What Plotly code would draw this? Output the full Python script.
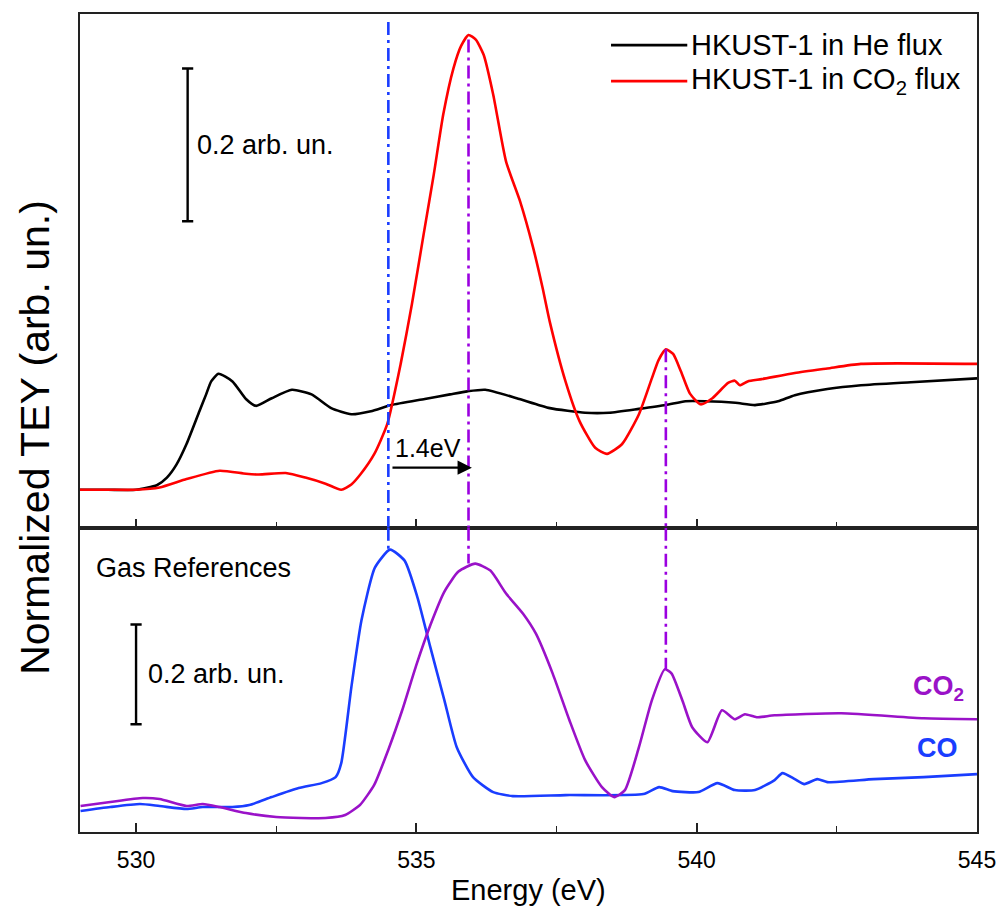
import plotly.graph_objects as go

# ---------------- data ----------------
# Top panel: HKUST-1 in He flux (black)
energy_he = [529.0, 529.5, 530.0, 530.37, 530.55, 530.72, 530.9, 531.13, 531.25, 531.34, 531.47,
             531.72, 531.96, 532.14, 532.42, 532.78, 533.13, 533.48, 533.84, 534.19, 534.55, 535.15,
             535.6, 535.91, 536.23, 536.79, 537.38, 538.01, 538.44, 538.97, 539.45, 539.8, 540.15,
             540.69, 541.04, 541.45, 541.75, 542.33, 542.93, 543.82, 545.0]
tey_he = [0.0, 0.0, 0.0, 0.006, 0.016, 0.033, 0.060, 0.103, 0.125, 0.142, 0.152,
          0.142, 0.119, 0.110, 0.120, 0.131, 0.125, 0.107, 0.099, 0.103, 0.111, 0.119,
          0.125, 0.129, 0.131, 0.120, 0.107, 0.101, 0.101, 0.106, 0.111, 0.116, 0.116,
          0.114, 0.111, 0.116, 0.124, 0.132, 0.137, 0.141, 0.146]

# Top panel: HKUST-1 in CO2 flux (red)
energy_co2flux = [529.0, 529.5, 530.0, 530.42, 530.9, 531.49, 531.96, 532.19, 532.67, 533.02,
                  533.38, 533.66, 533.84, 534.0, 534.25, 534.48, 534.72, 534.92, 535.13, 535.31,
                  535.48, 535.66, 535.8, 535.93, 536.06, 536.2, 536.37, 536.6, 536.85, 537.08,
                  537.25, 537.38, 537.66, 537.91, 538.19, 538.4, 538.67, 538.97, 539.2, 539.32,
                  539.45, 539.58, 539.72, 539.88, 540.07, 540.28, 540.56, 540.68, 540.77, 540.91,
                  541.16, 541.75, 542.33, 542.93, 545.0]
tey_co2flux = [0.0, 0.0, 0.0, 0.003, 0.014, 0.025, 0.021, 0.020, 0.022, 0.016,
               0.008, 0.0, 0.007, 0.020, 0.047, 0.086, 0.165, 0.243, 0.335, 0.413,
               0.492, 0.552, 0.582, 0.596, 0.590, 0.570, 0.518, 0.430, 0.378, 0.318,
               0.265, 0.220, 0.142, 0.090, 0.055, 0.047, 0.060, 0.099, 0.146, 0.170,
               0.184, 0.178, 0.155, 0.126, 0.112, 0.120, 0.140, 0.143, 0.137, 0.142,
               0.145, 0.153, 0.159, 0.165, 0.165]

# Bottom panel: CO gas reference (blue)
energy_co = [529.01, 529.54, 530.07, 530.42, 530.9, 531.19, 531.72, 532.02, 532.42, 532.9,
             533.31, 533.56, 533.66, 533.84, 534.02, 534.26, 534.53, 534.79, 535.02, 535.25,
             535.5, 535.72, 536.01, 536.37, 536.72, 537.66, 539.05, 539.33, 539.57, 540.03,
             540.37, 540.68, 541.04, 541.39, 541.53, 541.75, 541.92, 542.15, 542.33, 543.16,
             544.05, 545.0]
tey_co = [0.042, 0.050, 0.056, 0.052, 0.046, 0.050, 0.050, 0.054, 0.070, 0.088,
          0.098, 0.110, 0.138, 0.290, 0.424, 0.530, 0.566, 0.544, 0.470, 0.370,
          0.264, 0.170, 0.110, 0.080, 0.072, 0.074, 0.076, 0.090, 0.082, 0.080,
          0.098, 0.084, 0.084, 0.104, 0.118, 0.106, 0.096, 0.106, 0.100, 0.106,
          0.110, 0.116]

# Bottom panel: CO2 gas reference (purple)
energy_co2gas = [529.01, 529.54, 530.12, 530.42, 530.9, 531.19, 531.49, 531.96, 532.5, 533.38,
                 533.73, 534.0, 534.25, 534.5, 534.75, 535.0, 535.25, 535.5, 535.75, 536.05,
                 536.32, 536.6, 536.9, 537.13, 537.43, 537.73, 538.01, 538.31, 538.53, 538.72,
                 538.97, 539.2, 539.43, 539.55, 539.75, 539.92, 540.19, 540.45, 540.68, 540.86,
                 541.07, 541.39, 542.58, 544.05, 545.0]
tey_co2gas = [0.052, 0.060, 0.068, 0.066, 0.052, 0.056, 0.050, 0.038, 0.030, 0.028,
              0.034, 0.055, 0.095, 0.165, 0.245, 0.335, 0.415, 0.482, 0.522, 0.538,
              0.524, 0.478, 0.438, 0.398, 0.318, 0.224, 0.144, 0.090, 0.070, 0.084,
              0.170, 0.264, 0.326, 0.318, 0.262, 0.210, 0.180, 0.244, 0.226, 0.236,
              0.230, 0.234, 0.238, 0.228, 0.226]

x_ticks = [530, 535, 540, 545]
x_range = [529.0, 545.0]
top_range = [-0.0497, 0.6235]
bottom_range = [0.0, 0.61]

# Peak markers (energies in eV) and their extents
co_peak_e = 534.5
co2_peak1_e = 535.93
co2_peak2_e = 539.45
shift_label = "1.4eV"

# Scale bars: 0.2 arb. un.
scale_top = dict(x=530.92, y0=0.352, y1=0.552)
scale_bottom = dict(x=530.0, y0=0.216, y1=0.416)

BLACK = "#000000"
RED = "#ff0000"
BLUE = "#1a3dff"
PURPLE = "#9a12c8"
PURPLE_LINE = "#9b00e0"
FONT = "Liberation Sans, Arial, sans-serif"

fig = go.Figure()

line_w = 2.6
SM = 0.55
fig.add_trace(go.Scatter(x=energy_he, y=tey_he, mode="lines", name="HKUST-1 in He flux",
                         line=dict(color=BLACK, width=line_w, shape="spline", smoothing=SM),
                         xaxis="x", yaxis="y", showlegend=False))
fig.add_trace(go.Scatter(x=energy_co2flux, y=tey_co2flux, mode="lines",
                         name="HKUST-1 in CO<sub>2</sub> flux",
                         line=dict(color=RED, width=line_w, shape="spline", smoothing=SM),
                         xaxis="x", yaxis="y", showlegend=False))
fig.add_trace(go.Scatter(x=energy_co, y=tey_co, mode="lines", name="CO",
                         line=dict(color=BLUE, width=line_w, shape="spline", smoothing=SM),
                         xaxis="x2", yaxis="y2", showlegend=False))
fig.add_trace(go.Scatter(x=energy_co2gas, y=tey_co2gas, mode="lines", name="CO<sub>2</sub>",
                         line=dict(color=PURPLE, width=line_w, shape="spline", smoothing=SM),
                         xaxis="x2", yaxis="y2", showlegend=False))

# scale bars
for sb, xa, ya in [(scale_top, "x", "y"), (scale_bottom, "x2", "y2")]:
    fig.add_trace(go.Scatter(x=[sb["x"], sb["x"]], y=[sb["y0"], sb["y1"]], mode="lines+markers",
                             line=dict(color=BLACK, width=2.4),
                             marker=dict(symbol="line-ew", size=8, line=dict(color=BLACK, width=2.4)),
                             xaxis=xa, yaxis=ya, showlegend=False, hoverinfo="skip"))

DASH = "13px,5px,3px,5px"
DW = 2.6
shapes = []
# dash-dot guide lines, top panel part
shapes.append(dict(type="line", xref="x", yref="y", x0=co_peak_e, x1=co_peak_e,
                   y0=0.613, y1=top_range[0], line=dict(color=BLUE, width=DW, dash=DASH)))
shapes.append(dict(type="line", xref="x", yref="y", x0=co2_peak1_e, x1=co2_peak1_e,
                   y0=0.59, y1=top_range[0], line=dict(color=PURPLE_LINE, width=DW, dash=DASH)))
shapes.append(dict(type="line", xref="x", yref="y", x0=co2_peak2_e, x1=co2_peak2_e,
                   y0=0.184, y1=top_range[0], line=dict(color=PURPLE_LINE, width=DW, dash=DASH)))
# bottom panel part
shapes.append(dict(type="line", xref="x2", yref="y2", x0=co_peak_e, x1=co_peak_e,
                   y0=bottom_range[1], y1=0.566, line=dict(color=BLUE, width=DW, dash=DASH)))
shapes.append(dict(type="line", xref="x2", yref="y2", x0=co2_peak1_e, x1=co2_peak1_e,
                   y0=bottom_range[1], y1=0.538, line=dict(color=PURPLE_LINE, width=DW, dash=DASH)))
shapes.append(dict(type="line", xref="x2", yref="y2", x0=co2_peak2_e, x1=co2_peak2_e,
                   y0=bottom_range[1], y1=0.326, line=dict(color=PURPLE_LINE, width=DW, dash=DASH)))

# legend (custom, long line samples)
legend_items = [("HKUST-1 in He flux", BLACK, 0.962), ("HKUST-1 in CO<sub>2</sub> flux", RED, 0.918)]
for txt, col, yy in legend_items:
    shapes.append(dict(type="line", xref="paper", yref="paper", x0=0.592, x1=0.677, y0=yy, y1=yy,
                       line=dict(color=col, width=2.6)))

annotations = []
for txt, col, yy in legend_items:
    annotations.append(dict(xref="paper", yref="paper", x=0.679, y=yy, text=txt, showarrow=False,
                            xanchor="left", yanchor="middle", font=dict(size=29, color=BLACK, family=FONT)))

# 1.4 eV shift arrow
annotations.append(dict(xref="x", yref="y", axref="x", ayref="y", x=co2_peak1_e + 0.06, y=0.029,
                        ax=co_peak_e + 0.02, ay=0.029, text=" ", showarrow=True, arrowhead=2,
                        arrowsize=1.3, arrowwidth=2.2, arrowcolor=BLACK))
annotations.append(dict(xref="x", yref="y", x=535.2, y=0.055, text=shift_label, showarrow=False,
                        xanchor="center", yanchor="middle", font=dict(size=25, color=BLACK, family=FONT)))

# scale bar labels
annotations.append(dict(xref="x", yref="y", x=531.06, y=0.452, text="0.2 arb. un.", showarrow=False,
                        xanchor="left", yanchor="middle", font=dict(size=27, color=BLACK, family=FONT)))
annotations.append(dict(xref="x2", yref="y2", x=530.17, y=0.316, text="0.2 arb. un.", showarrow=False,
                        xanchor="left", yanchor="middle", font=dict(size=27, color=BLACK, family=FONT)))
annotations.append(dict(xref="x2", yref="y2", x=529.25, y=0.53, text="Gas References", showarrow=False,
                        xanchor="left", yanchor="middle", font=dict(size=27, color=BLACK, family=FONT)))
annotations.append(dict(xref="x2", yref="y2", x=544.8, y=0.288, text="<b>CO<sub>2</sub></b>", showarrow=False,
                        xanchor="right", yanchor="middle", font=dict(size=27, color=PURPLE, family=FONT)))
annotations.append(dict(xref="x2", yref="y2", x=544.7, y=0.168, text="<b>CO</b>", showarrow=False,
                        xanchor="right", yanchor="middle", font=dict(size=27, color=BLUE, family=FONT)))

# axis titles
annotations.append(dict(xref="paper", yref="paper", x=-0.05, y=0.482, text="Normalized TEY (arb. un.)",
                        textangle=-90, showarrow=False, xanchor="center", yanchor="middle",
                        font=dict(size=41, color=BLACK, family=FONT)))
annotations.append(dict(xref="paper", yref="paper", x=0.5, y=-0.071, text="Energy (eV)",
                        showarrow=False, xanchor="center", yanchor="middle",
                        font=dict(size=29, color=BLACK, family=FONT)))

AX_LINE = "#222222"
common_x = dict(range=x_range, tickvals=x_ticks, ticks="inside", ticklen=9, tickwidth=1.6,
                tickcolor=AX_LINE, showline=True, linecolor=AX_LINE, linewidth=1.8, mirror=True,
                showgrid=False, zeroline=False,
                minor=dict(dtick=2.5, tick0=530, ticks="inside", ticklen=6, tickwidth=1.4, tickcolor=AX_LINE))
common_y = dict(showline=True, linecolor=AX_LINE, linewidth=1.8, mirror=True, showgrid=False,
                zeroline=False, ticks="", showticklabels=False)

fig.update_layout(
    width=1008, height=911,
    margin=dict(l=80, r=24, t=12, b=79),
    paper_bgcolor="white", plot_bgcolor="white",
    font=dict(family=FONT, color=BLACK),
    xaxis=dict(**common_x, domain=[0, 1], anchor="y", showticklabels=False, matches="x2"),
    yaxis=dict(**common_y, domain=[0.372, 1], range=top_range, anchor="x"),
    xaxis2=dict(**common_x, domain=[0, 1], anchor="y2", showticklabels=True,
                tickfont=dict(size=23, color=BLACK, family=FONT), ticklabelstandoff=6),
    yaxis2=dict(**common_y, domain=[0, 0.372], range=bottom_range, anchor="x2"),
    shapes=shapes,
    annotations=annotations,
    showlegend=False,
)

fig.write_html("out.html")
